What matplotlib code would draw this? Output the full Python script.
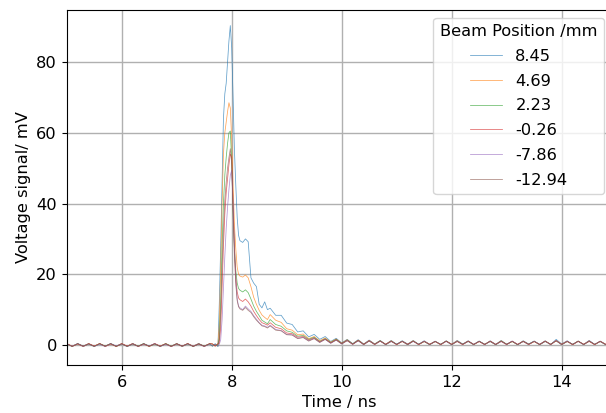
import matplotlib
matplotlib.use("Agg")
import matplotlib.pyplot as plt

plt.rcParams['font.family'] = ['DejaVu Sans']
plt.rcParams['font.size'] = 11.7

# ---------------- data ----------------
time_ns = [
    5.0, 5.1, 5.2, 5.3, 5.4, 5.5, 5.6, 5.7, 5.8, 5.9,
    6.0, 6.1, 6.2, 6.3, 6.4, 6.5, 6.6, 6.7, 6.8, 6.9,
    7.0, 7.1, 7.2, 7.3, 7.4, 7.5, 7.6,
    7.65, 7.7, 7.75, 7.775, 7.8, 7.825, 7.85, 7.875, 7.9, 7.925,
    7.95, 7.975, 8.0, 8.025, 8.05, 8.075, 8.1, 8.125, 8.15, 8.2,
    8.25, 8.3, 8.35, 8.4, 8.45, 8.5, 8.55, 8.6, 8.65,
    8.7, 8.8, 8.9, 9.0, 9.1, 9.2, 9.3, 9.4, 9.5, 9.6,
    9.7, 9.8, 9.9, 10.0, 10.1, 10.2, 10.3, 10.4, 10.5, 10.6,
    10.7, 10.8, 10.9, 11.0, 11.1, 11.2, 11.3, 11.4, 11.5, 11.6,
    11.7, 11.8, 11.9, 12.0, 12.1, 12.2, 12.3, 12.4, 12.5, 12.6,
    12.7, 12.8, 12.9, 13.0, 13.1, 13.2, 13.3, 13.4, 13.5, 13.6,
    13.7, 13.8, 13.9, 14.0, 14.1, 14.2, 14.3, 14.4, 14.5, 14.6,
    14.7, 14.8, 14.9, 15.0,
]

beam_positions = ["8.45", "4.69", "2.23", "-0.26", "-7.86", "-12.94"]

v_8p45 = [
    0.3, -0.4, 0.4, -0.3, 0.4, -0.4, 0.3, -0.4, 0.4, -0.3,
    0.4, -0.4, 0.3, -0.4, 0.4, -0.3, 0.4, -0.4, 0.3, -0.4,
    0.4, -0.3, 0.4, -0.4, 0.3, -0.4, 0.3,
    -0.3, 0.3, -0.4, 12.0, 28.0, 46.0, 64.0, 71.0, 74.0, 80.0,
    86.0, 90.3, 84.0, 70.0, 55.0, 45.0, 36.0, 31.0, 29.5, 29.0,
    30.0, 29.2, 19.0, 17.5, 16.5, 11.5, 10.5, 12.2, 10.0,
    10.4, 8.4, 8.4, 6.2, 5.8, 3.7, 4.0, 2.3, 3.0, 1.6,
    2.4, 1.0, 1.9, 0.6, 1.6, 0.4, 1.5, 0.3, 1.4, 0.3,
    1.3, 0.2, 1.3, 0.2, 1.2, 0.3, 1.3, 0.2, 1.2, 0.2,
    1.1, 0.1, 1.2, 0.2, 1.3, 0.3, 1.2, 0.2, 1.1, 0.1,
    1.2, 0.2, 1.3, 0.2, 1.1, 0.1, 1.2, 0.3, 1.1, 0.2,
    1.2, 0.1, 1.6, 0.3, 1.2, 0.1, 1.1, 0.2, 1.3, 0.1,
    1.1, 0.2, 1.2, 0.1,
]

v_4p69 = [
    0.4, -0.3, 0.3, -0.4, 0.4, -0.3, 0.4, -0.4, 0.3, -0.4,
    0.4, -0.3, 0.4, -0.4, 0.3, -0.4, 0.4, -0.3, 0.4, -0.4,
    0.3, -0.4, 0.4, -0.3, 0.4, -0.4, 0.4,
    0.3, -0.3, 0.4, 6.0, 22.0, 40.0, 54.0, 60.0, 63.0, 66.0,
    68.5, 67.0, 58.0, 45.0, 34.0, 27.0, 22.0, 20.0, 19.5, 19.2,
    19.8, 19.0, 16.5, 13.5, 11.5, 9.8, 8.5, 7.8, 7.2,
    8.6, 7.0, 6.4, 4.6, 4.2, 2.9, 3.1, 1.8, 2.4, 1.2,
    2.0, 0.8, 1.7, 0.5, 1.5, 0.3, 1.4, 0.2, 1.3, 0.3,
    1.2, 0.2, 1.2, 0.1, 1.1, 0.2, 1.2, 0.1, 1.1, 0.2,
    1.0, 0.1, 1.1, 0.2, 1.2, 0.2, 1.1, 0.1, 1.0, 0.2,
    1.1, 0.1, 1.2, 0.2, 1.0, 0.1, 1.1, 0.2, 1.0, 0.1,
    1.1, 0.2, 1.3, 0.2, 1.1, 0.1, 1.0, 0.2, 1.2, 0.1,
    1.0, 0.2, 1.1, 0.1,
]

v_2p23 = [
    0.3, -0.4, 0.4, -0.4, 0.3, -0.4, 0.4, -0.3, 0.4, -0.4,
    0.3, -0.4, 0.4, -0.3, 0.4, -0.4, 0.3, -0.4, 0.4, -0.3,
    0.4, -0.4, 0.3, -0.4, 0.4, -0.3, 0.3,
    -0.3, 0.3, -0.3, 2.0, 12.0, 28.0, 40.0, 48.0, 53.0, 57.0,
    60.0, 60.5, 52.0, 38.0, 27.0, 21.0, 17.5, 16.0, 15.5, 15.0,
    15.6, 14.8, 13.0, 11.0, 9.5, 8.3, 7.0, 6.5, 6.0,
    7.2, 5.8, 5.3, 4.0, 3.6, 2.5, 2.7, 1.6, 2.2, 1.0,
    1.8, 0.7, 1.6, 0.4, 1.4, 0.3, 1.3, 0.2, 1.2, 0.2,
    1.2, 0.1, 1.1, 0.2, 1.1, 0.1, 1.1, 0.2, 1.0, 0.1,
    1.0, 0.2, 1.1, 0.1, 1.1, 0.2, 1.0, 0.1, 1.1, 0.2,
    1.0, 0.1, 1.1, 0.2, 1.0, 0.1, 1.0, 0.2, 1.1, 0.1,
    1.0, 0.2, 1.2, 0.1, 1.0, 0.2, 1.1, 0.1, 1.1, 0.2,
    1.0, 0.1, 1.1, 0.2,
]

v_m0p26 = [
    0.4, -0.4, 0.3, -0.4, 0.4, -0.3, 0.4, -0.4, 0.3, -0.4,
    0.4, -0.3, 0.4, -0.4, 0.3, -0.4, 0.4, -0.3, 0.3, -0.4,
    0.4, -0.3, 0.4, -0.4, 0.3, -0.4, 0.4,
    0.3, -0.3, 0.3, 0.5, 5.0, 16.0, 28.0, 37.0, 43.0, 47.0,
    51.0, 54.0, 53.0, 40.0, 28.0, 19.0, 15.0, 13.3, 12.8, 12.3,
    13.0, 12.2, 11.0, 9.5, 8.3, 7.2, 6.3, 6.0, 5.6,
    6.3, 5.0, 4.6, 3.4, 3.2, 2.2, 2.4, 1.4, 2.0, 0.9,
    1.7, 0.6, 1.5, 0.4, 1.3, 0.2, 1.3, 0.2, 1.2, 0.1,
    1.1, 0.2, 1.1, 0.1, 1.0, 0.2, 1.1, 0.1, 1.0, 0.2,
    1.0, 0.1, 1.1, 0.2, 1.0, 0.1, 1.1, 0.2, 1.0, 0.1,
    1.1, 0.2, 1.0, 0.1, 1.1, 0.2, 1.0, 0.1, 1.0, 0.2,
    1.1, 0.1, 1.2, 0.2, 1.0, 0.1, 1.1, 0.2, 1.0, 0.1,
    1.1, 0.2, 1.0, 0.1,
]

v_m7p86 = [
    0.3, -0.3, 0.4, -0.4, 0.3, -0.4, 0.3, -0.4, 0.4, -0.3,
    0.3, -0.4, 0.4, -0.4, 0.3, -0.3, 0.4, -0.4, 0.3, -0.4,
    0.3, -0.4, 0.3, -0.3, 0.4, -0.4, 0.3,
    -0.3, 0.3, -0.3, 0.2, 1.5, 7.0, 16.0, 25.0, 33.0, 39.0,
    44.0, 48.0, 49.4, 40.0, 27.0, 18.0, 13.0, 11.0, 10.5, 10.0,
    11.0, 10.2, 9.5, 8.3, 7.3, 6.3, 5.6, 5.4, 5.0,
    5.6, 4.4, 4.1, 3.0, 2.9, 1.9, 2.2, 1.2, 1.9, 0.8,
    1.6, 0.5, 1.4, 0.3, 1.3, 0.2, 1.2, 0.1, 1.2, 0.2,
    1.1, 0.1, 1.0, 0.2, 1.1, 0.1, 1.0, 0.2, 1.1, 0.1,
    1.0, 0.2, 1.0, 0.1, 1.1, 0.2, 1.0, 0.1, 1.1, 0.2,
    1.0, 0.1, 1.0, 0.2, 1.1, 0.1, 1.0, 0.2, 1.1, 0.1,
    1.0, 0.2, 1.3, 0.1, 1.1, 0.2, 1.0, 0.1, 1.2, 0.2,
    1.0, 0.1, 1.1, 0.2,
]

v_m12p94 = [
    0.4, -0.4, 0.4, -0.3, 0.3, -0.4, 0.4, -0.3, 0.4, -0.4,
    0.3, -0.4, 0.3, -0.4, 0.4, -0.3, 0.3, -0.4, 0.4, -0.4,
    0.3, -0.3, 0.4, -0.4, 0.3, -0.3, 0.4,
    0.3, -0.3, 0.3, 1.5, 9.0, 22.0, 33.0, 41.0, 46.0, 50.0,
    53.0, 55.5, 51.0, 37.0, 25.0, 17.0, 12.5, 10.8, 10.2, 9.8,
    10.6, 9.8, 9.2, 8.0, 7.0, 6.2, 5.4, 5.2, 4.8,
    5.4, 4.2, 4.0, 2.9, 2.8, 1.8, 2.1, 1.1, 1.8, 0.7,
    1.6, 0.5, 1.4, 0.3, 1.2, 0.2, 1.2, 0.1, 1.1, 0.2,
    1.1, 0.1, 1.0, 0.2, 1.0, 0.1, 1.1, 0.2, 1.0, 0.1,
    1.0, 0.2, 1.1, 0.1, 1.0, 0.2, 1.1, 0.1, 1.0, 0.2,
    1.0, 0.1, 1.1, 0.2, 1.0, 0.1, 1.1, 0.2, 1.0, 0.1,
    1.1, 0.2, 1.2, 0.1, 1.0, 0.2, 1.1, 0.1, 1.1, 0.2,
    1.0, 0.1, 1.0, 0.2,
]

series = [v_8p45, v_4p69, v_2p23, v_m0p26, v_m7p86, v_m12p94]

# ---------------- figure ----------------
fig = plt.figure(figsize=(6.06, 4.13), dpi=100)
ax_left, ax_right, ax_bottom, ax_top = 66.7, 612.0, 365.0, 9.5
ax = fig.add_axes([ax_left / 606, 1 - ax_bottom / 413,
                   (ax_right - ax_left) / 606, (ax_bottom - ax_top) / 413])

for vals, lab in zip(series, beam_positions):
    ax.plot(time_ns, vals, lw=0.55, alpha=0.7, label=lab)

ax.set_xlim(5, 14.915)
ax.set_ylim(-5.65, 94.85)
ax.set_xticks([6, 8, 10, 12, 14])
ax.set_yticks([0, 20, 40, 60, 80])
ax.grid(True, color='#b0b0b0', lw=1.0)
ax.set_axisbelow(True)
ax.set_xlabel("Time / ns")
ax.set_ylabel("Voltage signal/ mV")
ax.legend(title="Beam Position /mm", loc="upper right", fontsize=11.7,
          title_fontsize=11.7, labelspacing=0.6)

fig.savefig("out.png", dpi=100)
